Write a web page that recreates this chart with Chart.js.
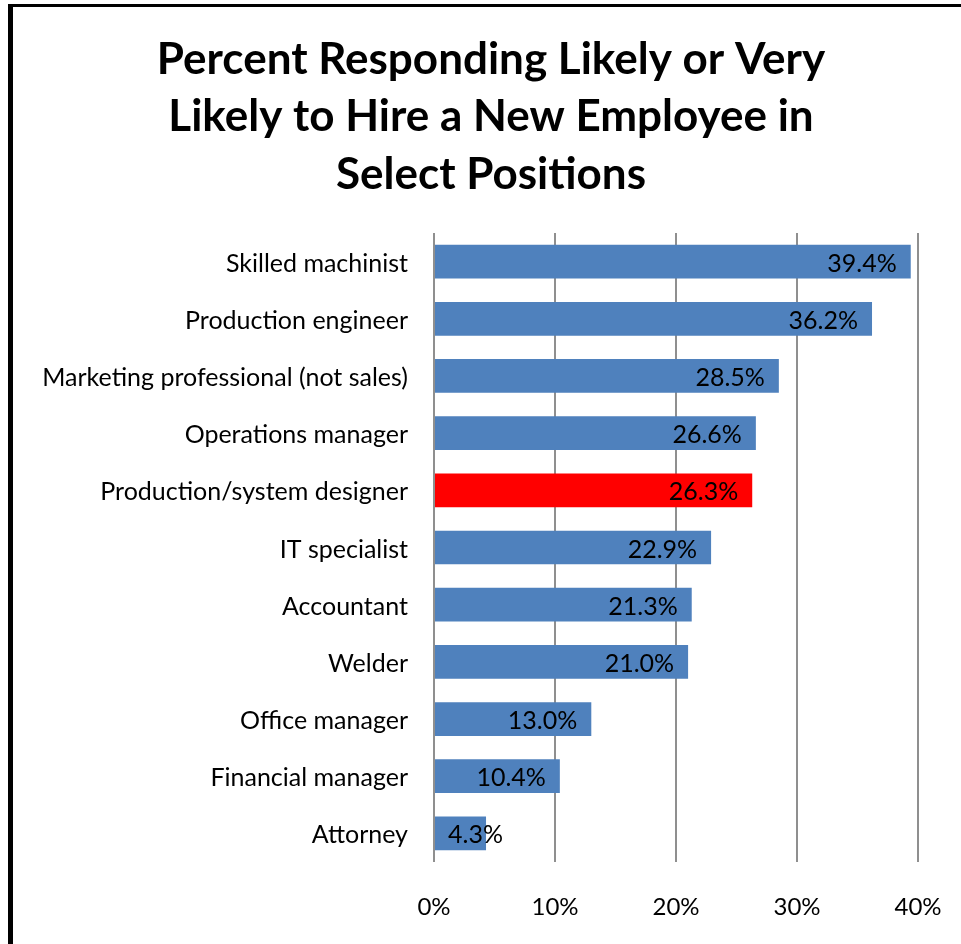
<!DOCTYPE html>
<html>
<head>
<meta charset="utf-8">
<script src="https://cdn.jsdelivr.net/npm/chart.js@4/dist/chart.umd.min.js"></script>
<style>
html,body{margin:0;padding:0;background:#fff;}
#wrap{position:relative;width:961px;height:944px;}
canvas{display:block;}
</style>
</head>
<body>
<div id="wrap"><canvas id="c" width="961" height="944"></canvas></div>
<script>
const titleLines = ["Percent Responding Likely or Very", "Likely to Hire a New Employee in", "Select Positions"];
const categories = ["Skilled machinist","Production engineer","Marketing professional (not sales)","Operations manager","Production/system designer","IT specialist","Accountant","Welder","Office manager","Financial manager","Attorney"];
const values = [39.4, 36.2, 28.5, 26.6, 26.3, 22.9, 21.3, 21.0, 13.0, 10.4, 4.3];
const highlighted = ["Production/system designer"];
const xTicks = [0, 10, 20, 30, 40];

const FONT = "Lato, 'Open Sans', sans-serif";
const barColors = categories.map(c => highlighted.includes(c) ? "#FF0000" : "#4F81BD");

const frame = {
  id: "frame",
  beforeDraw(chart) {
    const ctx = chart.ctx;
    ctx.save();
    ctx.fillStyle = "#fff";
    ctx.fillRect(0, 0, chart.width, chart.height);
    ctx.fillStyle = "#000";
    ctx.fillRect(8, 4, chart.width - 8, 3);
    ctx.fillRect(8, 4, 5, chart.height - 4);
    ctx.restore();
  }
};

const titleDraw = {
  id: "titleDraw",
  afterDraw(chart) {
    const ctx = chart.ctx;
    ctx.save();
    ctx.font = "bold 44px " + FONT;
    ctx.fillStyle = "#000";
    ctx.textAlign = "center";
    ctx.textBaseline = "middle";
    const ys = [60, 117, 175];
    titleLines.forEach((t, i) => ctx.fillText(t, 491, ys[i]));
    ctx.restore();
  }
};

const labels = {
  id: "barLabels",
  afterDatasetsDraw(chart) {
    const ctx = chart.ctx;
    const meta = chart.getDatasetMeta(0);
    const x0 = chart.scales.x.getPixelForValue(0);
    ctx.save();
    ctx.font = "25px " + FONT;
    ctx.fillStyle = "#000";
    ctx.textBaseline = "middle";
    ctx.textAlign = "left";
    meta.data.forEach((el, i) => {
      const txt = values[i].toFixed(1) + "%";
      const w = ctx.measureText(txt).width;
      const x = Math.max(el.x - 14 - w, x0 + 14);
      ctx.fillText(txt, x, el.y + 2);
    });
    ctx.restore();
  }
};

new Chart(document.getElementById("c"), {
  type: "bar",
  data: {
    labels: categories,
    datasets: [{
      data: values,
      backgroundColor: barColors,
      borderWidth: 0,
      categoryPercentage: 1,
      barPercentage: 0.59
    }]
  },
  options: {
    indexAxis: "y",
    responsive: false,
    animation: false,
    devicePixelRatio: 1,
    layout: { padding: { left: 0, right: 43, top: 233, bottom: 0 } },
    plugins: {
      legend: { display: false },
      tooltip: { enabled: false },
      title: { display: false }
    },
    scales: {
      x: {
        min: 0, max: 40,
        afterBuildTicks(scale) { scale.ticks = xTicks.map(v => ({ value: v })); },
        afterFit(scale) { scale.height = 82; scale.paddingLeft = 0; scale.paddingRight = 0; },
        grid: { color: "#8f8f8f", lineWidth: 2, drawTicks: false },
        border: { display: false },
        ticks: {
          color: "#000",
          padding: 31,
          font: { family: FONT, size: 24 },
          callback: v => v + "%"
        }
      },
      y: {
        afterFit(scale) { scale.width = 434; scale.paddingTop = 0; scale.paddingBottom = 0; },
        grid: { display: false, drawTicks: false },
        border: { display: false },
        ticks: {
          color: "#000",
          padding: 26,
          labelOffset: 2,
          font: { family: FONT, size: 25 }
        }
      }
    }
  },
  plugins: [frame, labels, titleDraw]
});
</script>
</body>
</html>
